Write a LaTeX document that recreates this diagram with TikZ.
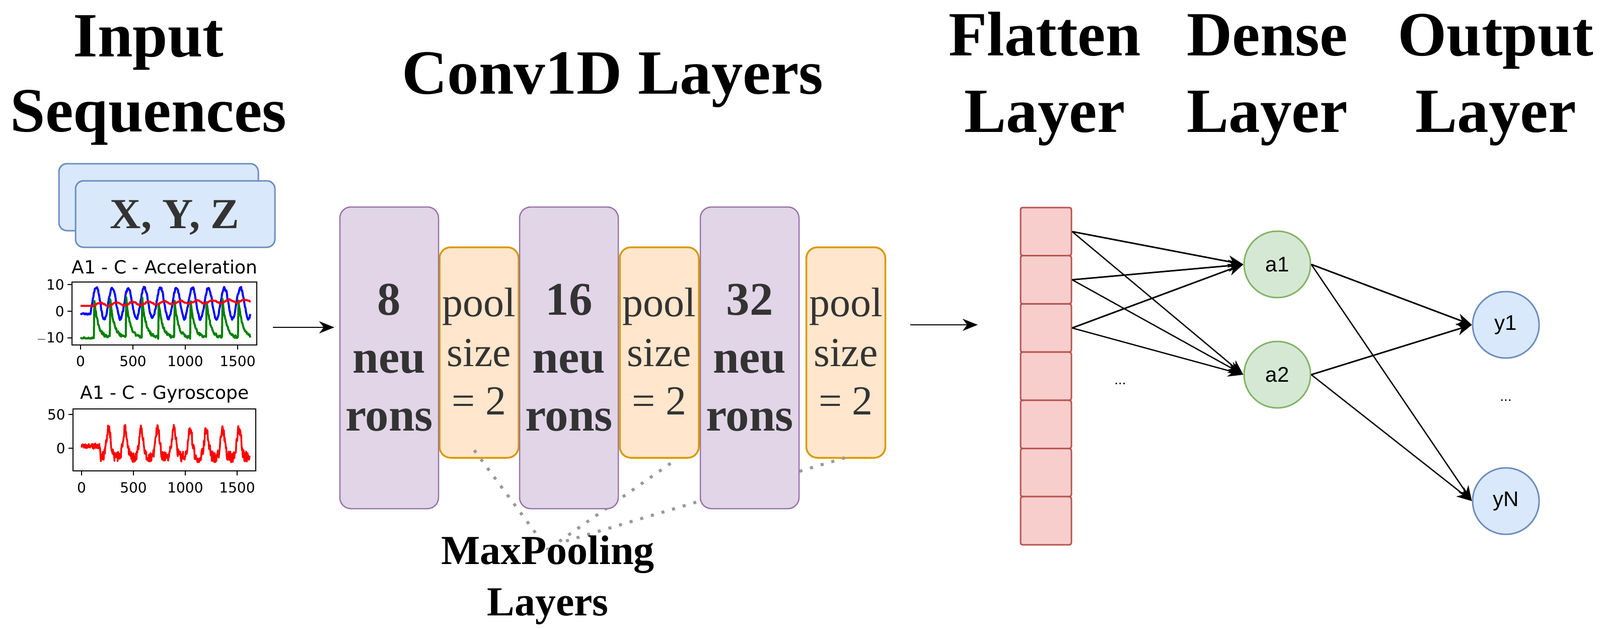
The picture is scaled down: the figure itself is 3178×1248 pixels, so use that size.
\documentclass[tikz,border=0pt]{standalone}
\usepackage{fontspec}
\setmainfont{Liberation Serif}
\newfontfamily\plotsans{DejaVu Sans}
\newfontfamily\nodesans{Liberation Sans}
\usetikzlibrary{arrows.meta}
\definecolor{purF}{HTML}{E1D5E7}\definecolor{purD}{HTML}{9673A6}
\definecolor{orF}{HTML}{FFE6CC}\definecolor{orD}{HTML}{D79B00}
\definecolor{bluF}{HTML}{DAE8FC}\definecolor{bluD}{HTML}{6C8EBF}
\definecolor{grnF}{HTML}{D5E8D4}\definecolor{grnD}{HTML}{82B366}
\definecolor{redF}{HTML}{F8CECC}\definecolor{redD}{HTML}{B85450}
\definecolor{txt}{HTML}{333333}
\definecolor{pgreen}{RGB}{0,128,0}
\begin{document}
\begin{tikzpicture}[x=1pt,y=-1pt,
  title/.style={anchor=base,inner sep=0,font=\fontsize{125}{150}\selectfont\bfseries},
  conv/.style={draw=purD,fill=purF,line width=2.5,rounded corners=22,minimum width=196,minimum height=599,inner sep=0},
  pool/.style={draw=orD,fill=orF,line width=3.5,rounded corners=22,minimum width=157,minimum height=418,inner sep=0},
  convtxt/.style={anchor=base,inner sep=0,text=txt,font=\fontsize{93}{110}\selectfont\bfseries},
  pooltxt/.style={anchor=base,inner sep=0,text=txt,font=\fontsize{82}{96}\selectfont},
  cell/.style={draw=redD,fill=redF,line width=3,rounded corners=4,minimum width=101,minimum height=95.7,inner sep=0},
  neur/.style={circle,line width=3,minimum size=132,inner sep=0,font=\nodesans\fontsize{42}{50}\selectfont},
  arr/.style={line width=3,-{Stealth[length=30,width=24,inset=9]}},
  arrthin/.style={line width=2.5,-{Stealth[length=30,width=24,inset=9]}},
  dots/.style={draw=gray!80,line width=6,dash pattern=on 6 off 16},
  ax/.style={line width=2.5,black},
  tick/.style={font=\plotsans\fontsize{28}{32}\selectfont,inner sep=0},
  ptitle/.style={font=\plotsans\fontsize{36}{40}\selectfont,inner sep=0},
  curve/.style={line width=4,line join=round}
]
\useasboundingbox (0,0) rectangle (3178,1248);

% titles
\node[title] (tin1) at (295,112) {Input};
\node[title] (tin2) at (295,261) {Sequences};
\node[title] (tconv) at (1217,186) {Conv1D Layers};
\node[title] (tfl1) at (2075,110) {Flatten};
\node[title] (tfl2) at (2075,262) {Layer};
\node[title] (tde1) at (2517,110) {Dense};
\node[title] (tde2) at (2517,262) {Layer};
\node[title] (tou1) at (2971,110) {Output};
\node[title] (tou2) at (2971,262) {Layer};

% XYZ boxes
\node[draw=bluD,fill=bluF,line width=3,rounded corners=16,minimum width=396,minimum height=133] (xyzb) at (315,391.5) {};
\node[draw=bluD,fill=bluF,line width=3,rounded corners=16,minimum width=396,minimum height=132] (xyzf) at (348,425) {};
\node[anchor=base,inner sep=0,text=txt,font=\fontsize{85}{100}\selectfont\bfseries] (xyzt) at (347,453) {X, Y, Z};

% plot 1
\node[ptitle] (p1t) at (327,530) {A1 - C - Acceleration};
\draw[curve,blue] plot[domain=0:1620,samples=320] ({160+0.208*\x},{618-5.3*(\x<100 ? -1+0.3*rand : 3.0+5.8*cos(mod(\x-150+1530,153)/153*360)+0.6*rand)});
\draw[curve,pgreen] plot[domain=0:1620,samples=320] ({160+0.208*\x},{618-5.3*(\x<115 ? -10+0.3*rand : -10+15*exp(-4.2*mod(\x-130+1530,153)/153)+0.6*rand)});
\draw[curve,red] plot[domain=0:1620,samples=200] ({160+0.208*\x},{618-5.3*(\x<100 ? 2 : 2.4+1.5*\x/1620+0.6*sin(mod(\x,153)/153*360)+0.25*rand)});
\draw[ax] (143,560) rectangle (510,685);
\foreach \t/\l in {0/0,500/500,1000/1000,1500/1500}{
  \draw[ax] ({160+0.208*\t},685) -- ({160+0.208*\t},694);
  \node[tick] at ({160+0.208*\t},717) {\l};}
\foreach \y/\l in {565/10,618/0,671/$-$10}{
  \draw[ax] (134,\y) -- (143,\y);
  \node[tick,anchor=east] at (128,\y) {\l};}

% plot 2
\node[ptitle] (p2t) at (327,783) {A1 - C - Gyroscope};
\draw[curve,red,line width=3.5] plot[domain=0:1620,samples=420] ({162+0.206*\x},{890-1.34*(\x<180 ? 3+4*rand : -13+42*exp(-((mod(\x-262+1648,157)-78)/28)^2)+8*rand)});
\draw[ax] (145,812) rectangle (508,935);
\foreach \t/\l in {0/0,500/500,1000/1000,1500/1500}{
  \draw[ax] ({162+0.206*\t},935) -- ({162+0.206*\t},944);
  \node[tick] at ({162+0.206*\t},968) {\l};}
\foreach \y/\l in {823/50,890/0}{
  \draw[ax] (136,\y) -- (145,\y);
  \node[tick,anchor=east] at (130,\y) {\l};}

% input arrow
\coordinate (ia) at (542,650);
\coordinate (ib) at (664,650);
\draw[arrthin] (ia) -- (ib);

% pool boxes
\foreach \n/\x in {o1/951.5,o2/1309.5,o3/1680}{
  \node[pool] (\n) at (\x,700) {};
  \node[pooltxt] at (\x,628) {pool};
  \node[pooltxt] at (\x,727) {size};
  \node[pooltxt] at (\x,823) {= 2};}

% dotted lines
\coordinate (d1) at (942,894);
\coordinate (d2) at (1332,920);
\coordinate (d3) at (1678,909);
\coordinate (m1) at (1088,1091);
\coordinate (m2) at (1101,1082);
\coordinate (m3) at (1122,1075);
\draw[dots] (d1) -- (m1);
\draw[dots] (d2) -- (m2);
\draw[dots] (d3) -- (m3);

% conv boxes
\foreach \n/\x/\k in {c1/773/8,c2/1130/16,c3/1489/32}{
  \node[conv] (\n) at (\x,710.5) {};
  \node[convtxt] at (\x,625) {\k};
  \node[convtxt] at (\x,740) {neu};
  \node[convtxt] at (\x,855) {rons};}

\node[anchor=base,inner sep=0,font=\fontsize{82}{100}\selectfont\bfseries] (mp1) at (1088,1120) {MaxPooling};
\node[anchor=base,inner sep=0,font=\fontsize{82}{100}\selectfont\bfseries] (mp2) at (1088,1222) {Layers};

% flatten arrow
\coordinate (fa) at (1808,645);
\coordinate (fb) at (1942,645);
\draw[arrthin] (fa) -- (fb);

% flatten cells
\foreach \i in {0,...,6}{
  \node[cell] (f\i) at (2077.5,{412+95.7*(\i+0.5)}) {};}

% neurons
\node[neur,draw=grnD,fill=grnF] (a1) at (2537,525) {a1};
\node[neur,draw=grnD,fill=grnF] (a2) at (2537,744) {a2};
\node[neur,draw=bluD,fill=bluF] (y1) at (2991,645) {y1};
\node[neur,draw=bluD,fill=bluF] (yN) at (2991,995) {yN};
\node[font=\nodesans\fontsize{28}{30}\selectfont] (e1) at (2225,762) {...};
\node[font=\nodesans\fontsize{28}{30}\selectfont] (e2) at (2991,795) {...};

\foreach \s in {f0,f1,f2}{
  \draw[arr] (\s.east) -- (a1.west);
  \draw[arrthin] (\s.east) -- (a2.west);}
\foreach \s in {a1,a2}{
  \draw[arr] (\s.east) -- (y1.west);
  \draw[arrthin] (\s.east) -- (yN.west);}
\end{tikzpicture}
\end{document}
